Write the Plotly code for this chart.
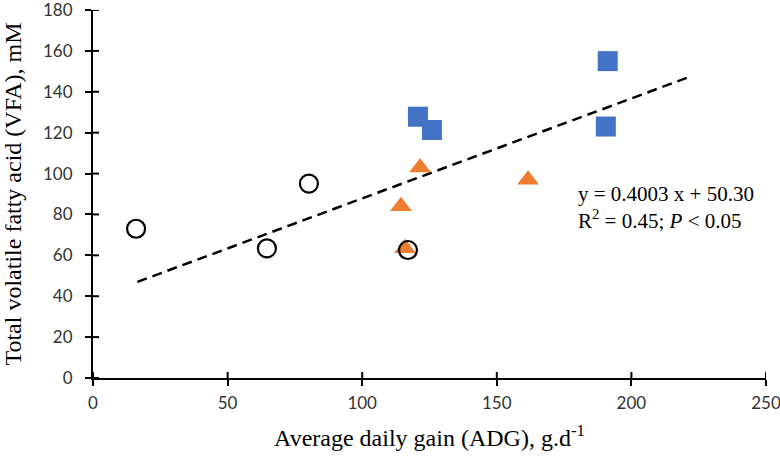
import plotly.graph_objects as go

# Data
circle_x = [16, 64.6, 80.2, 117]
circle_y = [73, 63.4, 95.1, 62.6]
tri_x = [114.4, 121.5, 161.6, 115.9]
tri_y = [84, 103, 97, 63.5]
sq_x = [120.7, 125.9, 191.2, 190.5]
sq_y = [127.8, 121.3, 155.0, 123.0]
trend_x = [16.5, 222]
trend_y = [47, 147.5]

x_ticks = [0, 50, 100, 150, 200, 250]
y_ticks = [0, 20, 40, 60, 80, 100, 120, 140, 160, 180]

serif = "Liberation Serif, Times New Roman, serif"
tickfont = dict(family="Lato, Liberation Sans, sans-serif", size=17, color="#333333")

W, H = 780, 459
M = dict(l=93, r=14, t=10, b=81)
plot_w = W - M["l"] - M["r"]
plot_h = H - M["t"] - M["b"]
TICK_IN = 6  # px length of the inner half of the crossing ticks

fig = go.Figure()
fig.add_trace(go.Scatter(x=trend_x, y=trend_y, mode="lines",
                         line=dict(color="black", width=2.5, dash="10px,6px"),
                         showlegend=False, hoverinfo="skip"))
fig.add_trace(go.Scatter(x=sq_x, y=sq_y, mode="markers",
                         marker=dict(symbol="square", size=20, color="#4472C4",
                                     line=dict(width=0)), showlegend=False))
fig.add_trace(go.Scatter(x=tri_x, y=tri_y, mode="markers",
                         marker=dict(symbol="triangle-up", size=19, color="#ED7D31",
                                     line=dict(width=0)), showlegend=False))
fig.add_trace(go.Scatter(x=circle_x, y=circle_y, mode="markers",
                         marker=dict(symbol="circle-open", size=18, color="black",
                                     line=dict(width=2.2)), showlegend=False))

axis_common = dict(showgrid=False, zeroline=False, showline=True, automargin=False,
                   linecolor="black", linewidth=2, ticks="outside",
                   tickcolor="black", tickwidth=2, ticklen=6,
                   ticklabeloverflow="allow")

# inner halves of the crossing tick marks, placed at the tick values
shapes = []
for xv in x_ticks:
    shapes.append(dict(type="line", xref="x", yref="paper", x0=xv, x1=xv,
                       y0=0, y1=TICK_IN / plot_h, line=dict(color="black", width=2)))
for yv in y_ticks:
    shapes.append(dict(type="line", xref="paper", yref="y", x0=0, x1=TICK_IN / plot_w,
                       y0=yv, y1=yv, line=dict(color="black", width=2)))

fig.update_layout(
    width=W, height=H,
    margin=M,
    paper_bgcolor="white", plot_bgcolor="white",
    xaxis=dict(range=[0, 250], tickvals=x_ticks, tickfont=tickfont,
               ticklabelstandoff=3,
               title=dict(text="Average daily gain (ADG), g.d<sup>-1</sup>",
                          font=dict(family=serif, size=24, color="black"),
                          standoff=17),
               **axis_common),
    yaxis=dict(range=[0, 180], tickvals=y_ticks, tickfont=tickfont,
               ticklabelstandoff=9,
               title=dict(text="Total volatile fatty acid (VFA), mM",
                          font=dict(family=serif, size=24, color="black"),
                          standoff=16),
               **axis_common),
    shapes=shapes,
    annotations=[
        dict(x=179.4, y=83.6, xref="x", yref="y", xanchor="left", yanchor="middle",
             align="left", showarrow=False,
             text="y = 0.4003 x + 50.30<br>R<sup>2</sup> = 0.45; <i>P</i> < 0.05",
             font=dict(family=serif, size=21, color="black")),
    ],
)

fig.write_html("out.html", config={"displayModeBar": False},
               post_script="document.body.style.margin='0px';")
